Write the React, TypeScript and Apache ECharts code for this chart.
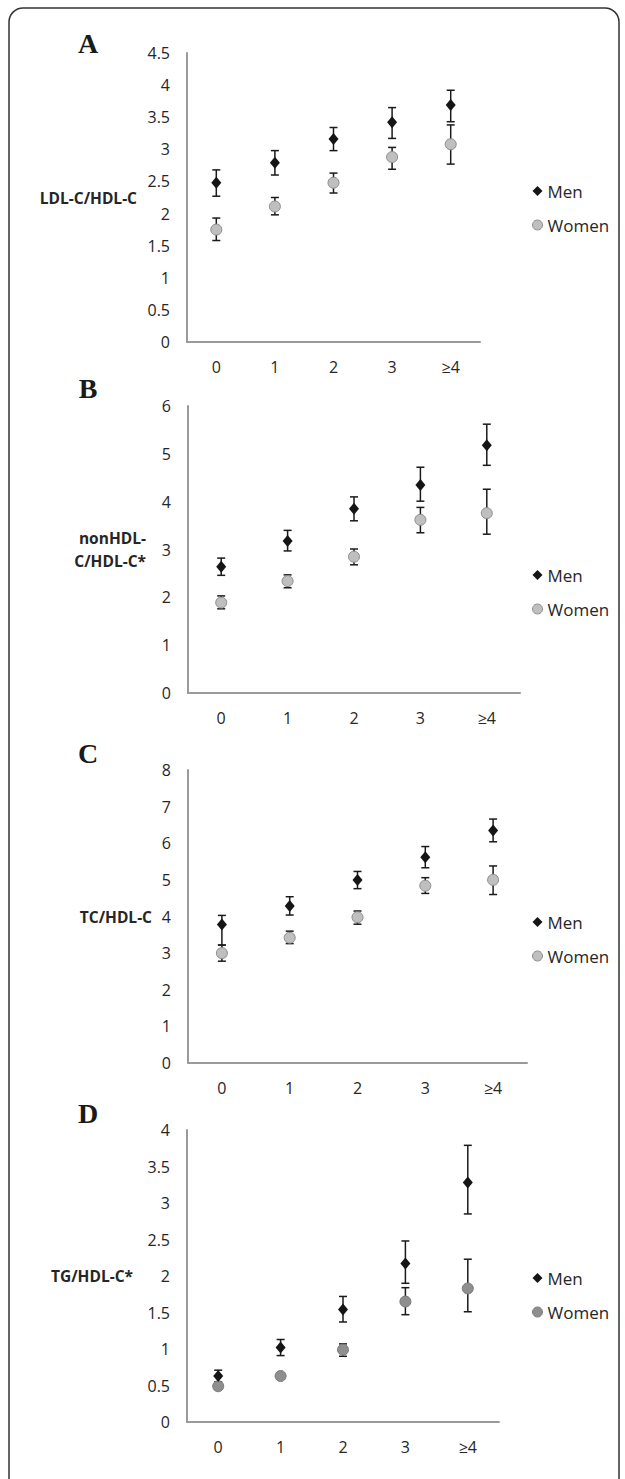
import React, { useEffect, useRef } from "react";
import * as echarts from "echarts";

const categories = ["0", "1", "2", "3", "≥4"];

// Panel A: LDL-C/HDL-C
const ldlMen = [2.48, 2.79, 3.16, 3.42, 3.69];
const ldlMenLow = [2.27, 2.6, 2.98, 3.17, 3.43];
const ldlMenHigh = [2.68, 2.98, 3.34, 3.65, 3.92];
const ldlWomen = [1.75, 2.11, 2.48, 2.88, 3.08];
const ldlWomenLow = [1.58, 1.98, 2.32, 2.69, 2.77];
const ldlWomenHigh = [1.93, 2.25, 2.63, 3.03, 3.38];

// Panel B: nonHDL-C/HDL-C*
const nonMen = [2.64, 3.18, 3.85, 4.35, 5.18];
const nonMenLow = [2.46, 2.97, 3.6, 4.01, 4.76];
const nonMenHigh = [2.82, 3.4, 4.1, 4.72, 5.62];
const nonWomen = [1.89, 2.34, 2.85, 3.62, 3.76];
const nonWomenLow = [1.76, 2.2, 2.68, 3.35, 3.32];
const nonWomenHigh = [2.03, 2.47, 3.01, 3.88, 4.26];

// Panel C: TC/HDL-C
const tcMen = [3.78, 4.29, 5.0, 5.62, 6.35];
const tcMenLow = [3.22, 4.04, 4.76, 5.33, 6.04];
const tcMenHigh = [4.03, 4.54, 5.23, 5.91, 6.66];
const tcWomen = [3.0, 3.42, 3.98, 4.84, 5.0];
const tcWomenLow = [2.78, 3.26, 3.79, 4.63, 4.6];
const tcWomenHigh = [3.22, 3.6, 4.15, 5.06, 5.38];

// Panel D: TG/HDL-C*
const tgMen = [0.63, 1.02, 1.54, 2.17, 3.28];
const tgMenLow = [0.55, 0.91, 1.37, 1.9, 2.85];
const tgMenHigh = [0.71, 1.13, 1.72, 2.48, 3.79];
const tgWomen = [0.49, 0.63, 0.99, 1.65, 1.83];
const tgWomenLow = [0.46, 0.6, 0.9, 1.47, 1.51];
const tgWomenHigh = [0.52, 0.66, 1.07, 1.84, 2.23];

const panelLetters = ["A", "B", "C", "D"];
const axisTitles = ["LDL-C/HDL-C", "nonHDL-\nC/HDL-C*", "TC/HDL-C", "TG/HDL-C*"];
const yMax = [4.5, 6, 8, 4];
const yStep = [0.5, 1, 1, 0.5];

const FONT = "'Open Sans', 'DejaVu Sans', sans-serif";
const TEXT = "#262626";
const AXIS = "#9a9a9a";

export default function App() {
  const ref = useRef<HTMLDivElement>(null);

  useEffect(() => {
    if (!ref.current) return;
    const chart = echarts.init(ref.current, null, { renderer: "svg" });

    const panels = [
      { men: ldlMen, menLo: ldlMenLow, menHi: ldlMenHigh, wom: ldlWomen, womLo: ldlWomenLow, womHi: ldlWomenHigh, womColor: "#bfbfbf", womBorder: "#8c8c8c" },
      { men: nonMen, menLo: nonMenLow, menHi: nonMenHigh, wom: nonWomen, womLo: nonWomenLow, womHi: nonWomenHigh, womColor: "#bfbfbf", womBorder: "#8c8c8c" },
      { men: tcMen, menLo: tcMenLow, menHi: tcMenHigh, wom: tcWomen, womLo: tcWomenLow, womHi: tcWomenHigh, womColor: "#bfbfbf", womBorder: "#8c8c8c" },
      { men: tgMen, menLo: tgMenLow, menHi: tgMenHigh, wom: tgWomen, womLo: tgWomenLow, womHi: tgWomenHigh, womColor: "#8e8e8e", womBorder: "#7a7a7a" },
    ];

    const grids = [
      { left: 187, top: 53, width: 293, height: 289 },
      { left: 188, top: 406, width: 332, height: 287 },
      { left: 188, top: 770, width: 339, height: 293 },
      { left: 187, top: 1130, width: 312, height: 292 },
    ];
    const nameGaps = [50, 42, 36, 54];
    const legendTops = [176, 560, 907, 1263];
    const letterTops = [43, 388, 753, 1113];

    const errorRender = (params: any, api: any) => {
      const lo = api.coord([api.value(0), api.value(1)]);
      const hi = api.coord([api.value(0), api.value(2)]);
      const cap = 4;
      const style = { stroke: "#1a1a1a", lineWidth: 1.5 };
      return {
        type: "group",
        children: [
          { type: "line", shape: { x1: lo[0], y1: lo[1], x2: hi[0], y2: hi[1] }, style },
          { type: "line", shape: { x1: lo[0] - cap, y1: lo[1], x2: lo[0] + cap, y2: lo[1] }, style },
          { type: "line", shape: { x1: hi[0] - cap, y1: hi[1], x2: hi[0] + cap, y2: hi[1] }, style },
        ],
      };
    };

    const series: any[] = [];
    panels.forEach((p, i) => {
      series.push({
        type: "custom",
        name: "MenErr" + i,
        xAxisIndex: i,
        yAxisIndex: i,
        renderItem: errorRender,
        encode: { x: 0, y: [1, 2] },
        data: categories.map((_, k) => [k, p.menLo[k], p.menHi[k]]),
        z: 2,
        silent: true,
      });
      series.push({
        type: "custom",
        name: "WomenErr" + i,
        xAxisIndex: i,
        yAxisIndex: i,
        renderItem: errorRender,
        encode: { x: 0, y: [1, 2] },
        data: categories.map((_, k) => [k, p.womLo[k], p.womHi[k]]),
        z: 2,
        silent: true,
      });
      series.push({
        type: "scatter",
        name: "Women",
        xAxisIndex: i,
        yAxisIndex: i,
        symbol: "circle",
        symbolSize: 11,
        itemStyle: { color: p.womColor, borderColor: p.womBorder, borderWidth: 1, opacity: 1 },
        data: p.wom,
        z: 3,
      });
      series.push({
        type: "scatter",
        name: "Men",
        xAxisIndex: i,
        yAxisIndex: i,
        symbol: "diamond",
        symbolSize: [10, 12],
        itemStyle: { color: "#151515", opacity: 1 },
        data: p.men,
        z: 4,
      });
    });

    const option: any = {
      animation: false,
      backgroundColor: "#ffffff",
      textStyle: { fontFamily: FONT },
      grid: grids.map((g) => ({ ...g, containLabel: false })),
      xAxis: grids.map((_, i) => ({
        type: "category",
        gridIndex: i,
        data: categories,
        boundaryGap: true,
        axisLine: { show: true, lineStyle: { color: AXIS, width: 2 } },
        axisTick: { show: false },
        axisLabel: { color: TEXT, fontSize: 16, fontFamily: FONT, margin: 17 },
        splitLine: { show: false },
      })),
      yAxis: grids.map((_, i) => ({
        type: "value",
        gridIndex: i,
        min: 0,
        max: yMax[i],
        interval: yStep[i],
        name: axisTitles[i],
        nameLocation: "middle",
        nameRotate: 0,
        nameGap: nameGaps[i],
        nameTextStyle: { color: TEXT, fontSize: 15.5, fontWeight: "bold", fontFamily: FONT, align: "right", lineHeight: 23 },
        axisLine: { show: true, lineStyle: { color: AXIS, width: 2 } },
        axisTick: { show: false },
        axisLabel: { color: TEXT, fontSize: 16, fontFamily: FONT, margin: 17 },
        splitLine: { show: false },
      })),
      legend: panels.map((p, i) => ({
        orient: "vertical",
        left: 527,
        top: legendTops[i],
        itemWidth: 10,
        itemHeight: 10,
        itemGap: 14,
        selectedMode: false,
        textStyle: { color: TEXT, fontSize: 17, fontFamily: FONT, lineHeight: 20 },
        data: [
          { name: "Men", icon: "diamond", itemStyle: { color: "#151515", borderWidth: 0 } },
          { name: "Women", icon: "circle", itemStyle: { color: p.womColor, borderColor: p.womBorder, borderWidth: 1 } },
        ],
      })),
      graphic: [
        {
          type: "rect",
          shape: { x: 9, y: 8, width: 610, height: 1520, r: 14 },
          style: { fill: "none", stroke: "#333333", lineWidth: 1.5 },
          silent: true,
        },
        ...panelLetters.map((L, i) => ({
          type: "text",
          x: 88,
          y: letterTops[i],
          style: {
            text: L,
            fill: "#1a1a1a",
            font: "bold 28px 'Liberation Serif', 'Times New Roman', serif",
            align: "center",
            verticalAlign: "middle",
          },
          silent: true,
        })),
      ],
      series,
    };

    chart.setOption(option);
    return () => chart.dispose();
  }, []);

  return (
    <div
      ref={ref}
      style={{ position: "absolute", left: 0, top: 0, width: 625, height: 1479, background: "#fff" }}
    />
  );
}
